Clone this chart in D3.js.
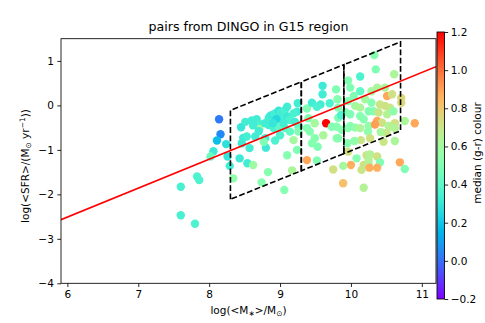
<!DOCTYPE html>
<html><head><meta charset="utf-8">
<script src="https://cdn.jsdelivr.net/npm/d3@7"></script>
<style>body{margin:0;background:#fff}svg{display:block;font-family:"DejaVu Sans",sans-serif}</style>
</head><body><svg id="c" width="485" height="323"></svg>
<script>
// ---- data ----
const logMass = [
 7.60,7.83,7.86,7.60,7.80,
 8.14,8.16,8.11,8.24,8.06,8.02,8.26,8.29,
 8.34,8.45,8.51,8.60,8.67,8.72,8.71,8.79,8.86,
 8.48,8.46,8.53,8.57,8.65,8.79,8.80,8.77,
 8.43,8.54,8.62,8.83,8.74,
 8.84,8.88,8.93,8.98,9.01,9.07,9.10,9.02,9.10,9.14,9.21,8.95,
 8.84,8.91,8.98,9.07,9.14,9.26,9.26,
 9.24,9.19,9.25,9.00,8.93,9.19,9.10,9.24,9.17,9.06,
 9.38,9.45,9.57,9.60,9.60,9.70,9.79,9.81,9.40,9.38,9.42,9.49,9.65,9.61,9.73,9.80,9.45,9.53,9.49,9.38,9.52,9.75,9.52,
 10.33,10.35,10.61,10.13,9.96,9.82,9.99,10.13,10.04,9.96,10.20,10.29,10.37,10.48,10.51,10.58,10.71,10.71,10.06,10.13,
 10.29,10.25,10.32,10.41,10.48,10.55,10.39,10.51,10.60,9.92,9.99,9.82,10.13,10.18,10.37,10.44,10.53,10.62,10.90,10.76,
 9.99,10.06,10.25,10.34,9.80,9.87,9.96,10.13,10.24,9.82,10.14,10.27,10.46,10.62,10.55,9.96,10.08,10.22,10.27,10.25,
 10.37,10.18,10.25,10.41,10.00,9.89,10.26,10.37,10.15,10.69,10.76,9.89,10.18,9.86,
 9.95,10.05,10.50,10.42,10.62,8.70,8.62,9.05,8.90
];
const logSFR = [
 -1.83,-1.60,-1.68,-2.47,-2.66,
 -0.31,-0.65,-0.79,-0.87,-1.03,-1.15,-1.15,-1.36,
 -1.64,-0.49,-0.37,-0.34,-0.31,-0.42,-0.53,-0.40,-0.24,
 -0.73,-0.85,-0.70,-0.96,-0.70,-0.74,-0.95,-0.82,
 -1.19,-1.30,-1.34,-1.50,-1.73,
 -0.29,-0.22,-0.18,-0.12,-0.16,-0.10,-0.03,-0.29,-0.25,-0.33,-0.37,-0.31,
 -0.44,-0.51,-0.48,-0.51,-0.59,-0.48,-0.59,
 -0.14,-0.18,0.05,-0.67,-0.79,-0.78,-1.12,-1.00,-1.46,-1.90,
 -0.07,0.06,0.02,0.44,0.25,0.05,0.36,0.14,-0.29,-0.51,-0.59,-0.40,-0.40,-0.67,-0.48,-0.74,-0.85,-0.93,-0.74,-1.23,-1.24,-1.44,-0.03,
 1.13,0.81,0.70,0.65,0.56,-0.05,0.40,0.32,0.21,0.10,0.14,0.32,0.40,0.40,0.21,0.25,0.17,0.06,-0.01,-0.05,
 0.06,-0.13,-0.13,0.02,-0.01,-0.05,-0.16,-0.20,-0.13,-0.15,-0.20,-0.28,-0.24,-0.31,-0.35,-0.39,-0.46,-0.40,-0.40,-0.35,
 -0.46,-0.50,-0.46,-0.43,-0.48,-0.55,-0.51,-0.51,-0.59,-0.74,-0.78,-0.74,-0.82,-0.51,-0.48,-1.04,-1.19,-1.12,-1.10,-1.23,
 -1.15,-1.34,-1.32,-1.28,-1.34,-1.36,-1.40,-1.40,-1.45,-1.28,-1.43,-1.75,-1.85,-0.22,
 -0.85,-0.80,-0.62,-0.60,-0.80,-0.58,-0.45,-0.40,-0.40
];
const grColour = [
 .35,.36,.36,.35,.36,
 .02,.05,.18,.28,.32,.44,.30,.33,
 .55,.30,.33,.33,.33,.35,.58,.33,.33,
 .32,.32,.34,.33,.33,.34,.32,.50,
 .32,.33,.58,.52,.52,
 .33,.32,.34,.30,.33,.35,.33,.34,.32,.36,.33,.25,
 .33,.35,.40,.40,.42,.42,.50,
 .33,.35,.33,.36,.36,.60,.52,.50,.62,.52,
 .50,.33,.33,.32,.33,.36,.50,.52,.50,.50,.52,.60,1.2,.62,.50,.52,.52,.50,.52,.88,.50,.72,.35,
 .52,.50,.62,.36,.50,.52,.50,.42,.50,.52,.60,.60,.62,.62,.88,.72,.75,.75,.60,.62,
 .52,.50,.52,.70,.72,.70,.70,.64,.54,.50,.50,.50,.52,.52,.88,.72,.62,.72,.88,.62,
 .52,.55,.55,.90,.52,.52,.52,.62,.54,.52,.70,.72,.70,.64,.64,.72,.52,.70,.64,.64,
 .72,.72,.64,.50,.86,.60,.86,.86,.70,.88,.50,.82,.64,.36,
 .52,.55,.70,.62,.62,.33,.33,.33,.30
];
const xTicks = [6,7,8,9,10,11];
const yTicks = [-4,-3,-2,-1,0,1];
const cbTicks = [-0.2,0.0,0.2,0.4,0.6,0.8,1.0,1.2];
const fitSlope = 0.65, fitIntercept = -6.41;
const boxRanges = [[8.3,9.3],[9.3,9.9],[9.9,10.7]];
const boxSlope = 0.642, boxIntercept = -6.44, boxHalfWidth = 1.0;

// ---- layout ----
const L=61, R=436, T=38.7, B=283.3;
const svg = d3.select("#c");
const x = d3.scaleLinear().domain([5.91,11.2]).range([L,R]);
const y = d3.scaleLinear().domain([-4,1.5]).range([B,T]);
function rainbow(t){
  t=Math.max(0,Math.min(1,t));
  const r=Math.min(1,Math.abs(2*t-0.5)), g=Math.sin(Math.PI*t), b=Math.cos(Math.PI*t/2);
  return d3.rgb(r*255,g*255,b*255).toString();
}
const col = d3.scaleSequential(rainbow).domain([-0.2,1.2]);

const defs = svg.append("defs");
defs.append("clipPath").attr("id","clip").append("rect").attr("x",L).attr("y",T).attr("width",R-L).attr("height",B-T);

const plot = svg.append("g").attr("clip-path","url(#clip)");
const pts = logMass.map((m,i)=>({m, s:logSFR[i], c:grColour[i]}));
plot.selectAll("circle").data(pts).join("circle")
  .attr("cx",d=>x(d.m)).attr("cy",d=>y(d.s)).attr("r",4.2)
  .attr("fill",d=>col(d.c));

// dashed boxes
const centre = m => boxSlope*m + boxIntercept;
boxRanges.forEach(([a,b])=>{
  const poly=[[a,centre(a)-boxHalfWidth],[a,centre(a)+boxHalfWidth],[b,centre(b)+boxHalfWidth],[b,centre(b)-boxHalfWidth]];
  plot.append("path").attr("d",d3.line().x(p=>x(p[0])).y(p=>y(p[1]))(poly)+"Z")
    .attr("fill","none").attr("stroke","#000").attr("stroke-width",1.6).attr("stroke-dasharray","5.8,2.5");
});
// fit line
const xd = x.domain();
plot.append("path").attr("d",d3.line().x(p=>x(p)).y(p=>y(fitSlope*p+fitIntercept))(xd))
  .attr("stroke","#ff0000").attr("stroke-width",1.6).attr("fill","none");

// axes
const fs = "10.5px";
const xa = svg.append("g").attr("transform",`translate(0,${B})`)
  .call(d3.axisBottom(x).tickValues(xTicks).tickSizeOuter(0).tickSize(3.7).tickPadding(3.5).tickFormat(d3.format("d")));
const ya = svg.append("g").attr("transform",`translate(${L},0)`)
  .call(d3.axisLeft(y).tickValues(yTicks).tickSizeOuter(0).tickSize(3.7).tickPadding(3.5).tickFormat(d3.format("d")));
[xa,ya].forEach(a=>{a.select(".domain").remove();a.selectAll("text").attr("font-size",fs).attr("fill","#000").attr("font-family","DejaVu Sans");a.selectAll("line").attr("stroke","#000").attr("stroke-width",0.85);});
svg.append("rect").attr("x",L).attr("y",T).attr("width",R-L).attr("height",B-T).attr("fill","none").attr("stroke","#000").attr("stroke-width",0.85);

// title
svg.append("text").attr("x",(L+R)/2).attr("y",30.5).attr("text-anchor","middle").attr("font-size","12.6px").text("pairs from DINGO in G15 region");

// x label
const xl = svg.append("text").attr("x",(L+R)/2).attr("y",314).attr("text-anchor","middle").attr("font-size",fs);
xl.append("tspan").text("log(<M");
xl.append("tspan").attr("font-size","7.5px").attr("dy",2).text("∗");
xl.append("tspan").attr("dy",-2).text(">/M");
xl.append("tspan").attr("font-size","7.5px").attr("dy",2).text("⊙");
xl.append("tspan").attr("dy",-2).text(")");

// y label
const yl = svg.append("text").attr("transform","translate(29,166) rotate(-90)").attr("text-anchor","middle").attr("font-size",fs);
yl.append("tspan").text("log(<SFR>/(M");
yl.append("tspan").attr("font-size","7.5px").attr("dy",2).text("⊙");
yl.append("tspan").attr("dy",-2).text(" yr");
yl.append("tspan").attr("font-size","7.5px").attr("dy",-4).text("−1");
yl.append("tspan").attr("dy",4).text("))");

// colorbar
const CL=437, CR=444.5, CT=32, CB=299;
const grad = defs.append("linearGradient").attr("id","cbg").attr("x1",0).attr("y1",1).attr("x2",0).attr("y2",0);
d3.range(0,1.0001,0.02).forEach(t=>grad.append("stop").attr("offset",t).attr("stop-color",rainbow(t)));
svg.append("rect").attr("x",CL).attr("y",CT).attr("width",CR-CL).attr("height",CB-CT).attr("fill","url(#cbg)").attr("stroke","#000").attr("stroke-width",0.85);
const cy = d3.scaleLinear().domain([-0.2,1.2]).range([CB,CT]);
const ca = svg.append("g").attr("transform",`translate(${CR},0)`)
  .call(d3.axisRight(cy).tickValues(cbTicks).tickSizeOuter(0).tickSize(3.7).tickPadding(2.5).tickFormat(d3.format(".1f")));
ca.select(".domain").remove();
ca.selectAll("text").attr("font-size",fs).attr("fill","#000").attr("font-family","DejaVu Sans");
ca.selectAll("line").attr("stroke","#000").attr("stroke-width",0.85);
svg.append("text").attr("transform","translate(481,153) rotate(-90)").attr("text-anchor","middle").attr("font-size",fs).text("median (g-r) colour");
</script></body></html>
